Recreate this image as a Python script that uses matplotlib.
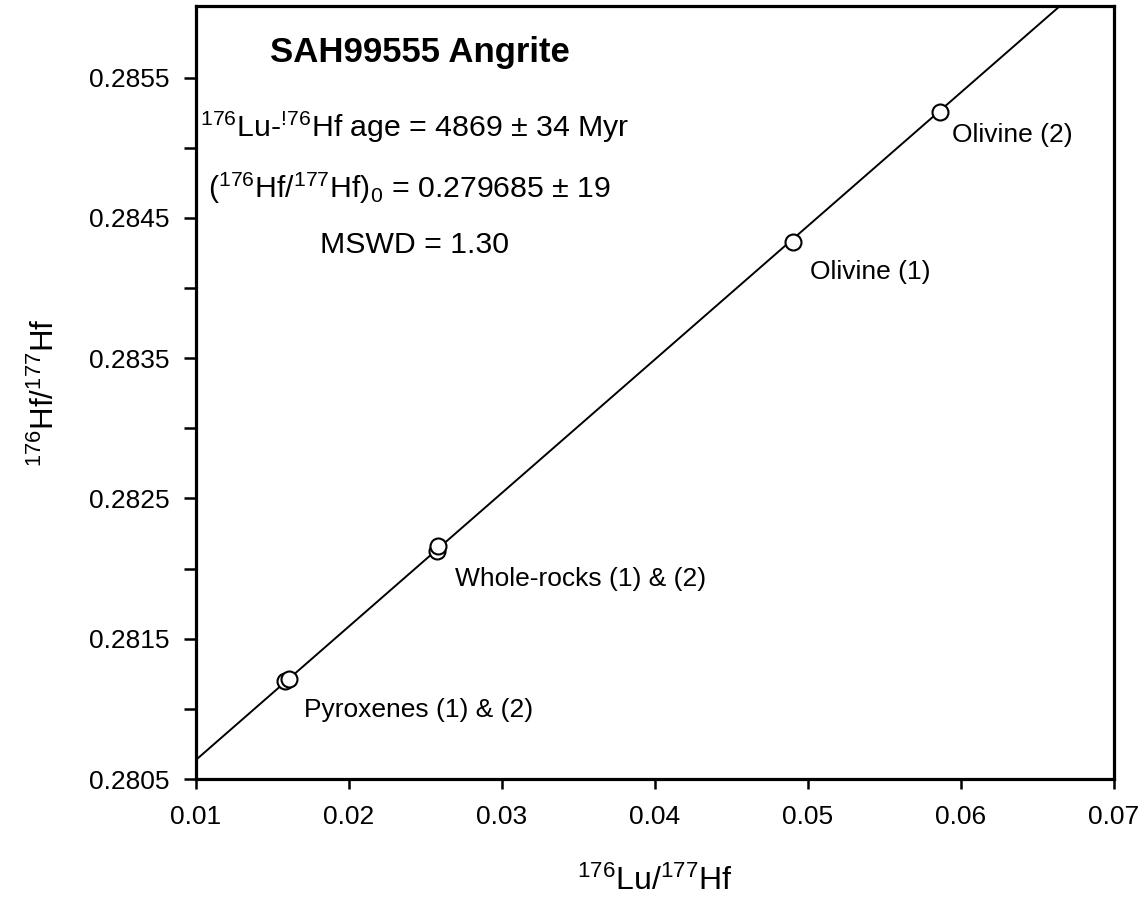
import matplotlib
matplotlib.use('Agg')
import matplotlib.pyplot as plt
import numpy as np

plt.rcParams['font.family'] = ['Liberation Sans', 'DejaVu Sans']
plt.rcParams['mathtext.fontset'] = 'custom'
plt.rcParams['mathtext.rm'] = 'Liberation Sans'
plt.rcParams['mathtext.it'] = 'Liberation Sans'
plt.rcParams['mathtext.default'] = 'regular'

# measured ratios
lu_hf = [0.0158, 0.01605, 0.02575, 0.02582, 0.04902, 0.0586]
hf_hf = [0.281196, 0.281212, 0.282124, 0.282160, 0.284325, 0.285258]

# labels and the point each one hangs off
labels = ['Pyroxenes (1) & (2)', 'Whole-rocks (1) & (2)', 'Olivine (1)', 'Olivine (2)']
label_idx = [1, 2, 4, 5]
label_off = [(11, -22), (13, -20), (12, -21), (9, -17)]

# isochron fit
intercept = 0.279685
slope = 0.09516

fig = plt.figure(figsize=(11.45, 9.14), dpi=100)
ax = fig.add_axes([0.1712, 0.1477, 0.8017, 0.8457])

xl = np.array([0.01, 0.07])
ax.plot(xl, intercept + slope * xl, color='black', lw=1.4, zorder=2)
ax.plot(lu_hf, hf_hf, 'o', ms=11.5, mfc='white', mec='black', mew=1.5, zorder=3)

for lab, i, off in zip(labels, label_idx, label_off):
    ax.annotate(lab, (lu_hf[i], hf_hf[i]), xytext=off, textcoords='offset points',
                ha='left', va='center', fontsize=19)

ax.set_xlim(0.01, 0.07)
ax.set_ylim(0.2805, 0.28601)
ax.set_xticks(np.arange(0.01, 0.0701, 0.01))
ax.set_xticklabels(['0.01', '0.02', '0.03', '0.04', '0.05', '0.06', '0.07'])
ax.set_yticks(np.arange(0.2805, 0.2856, 0.001))
ax.set_yticklabels(['0.2805', '0.2815', '0.2825', '0.2835', '0.2845', '0.2855'])
ax.set_yticks(np.arange(0.2810, 0.2856, 0.001), minor=True)

for s in ax.spines.values():
    s.set_linewidth(2.3)
ax.tick_params(axis='both', which='major', direction='out', width=1.8, labelsize=19)
ax.tick_params(axis='y', which='major', length=9, pad=10)
ax.tick_params(axis='y', which='minor', length=9, width=1.8)
ax.tick_params(axis='x', which='major', length=7, pad=12)

ax.set_xlabel(r'$^{176}$Lu/$^{177}$Hf', fontsize=23, labelpad=26)
ax.set_ylabel(r'$^{176}$Hf/$^{177}$Hf', fontsize=22.5, labelpad=20)

ax.text(0.081, 0.9405, 'SAH99555 Angrite', transform=ax.transAxes,
        fontsize=25, fontweight='bold', va='center', ha='left')
ax.text(0.004, 0.8435, r'$^{176}$Lu-$^{!\!76}$Hf age = 4869 ± 34 Myr', transform=ax.transAxes,
        fontsize=21.8, va='center', ha='left')
ax.text(0.013, 0.7646, r'($^{176}$Hf/$^{177}$Hf)$_0$ = 0.279685 ± 19', transform=ax.transAxes,
        fontsize=21.8, va='center', ha='left')
ax.text(0.135, 0.6908, 'MSWD = 1.30', transform=ax.transAxes,
        fontsize=21.8, va='center', ha='left')

fig.savefig('out.png', dpi=100)
